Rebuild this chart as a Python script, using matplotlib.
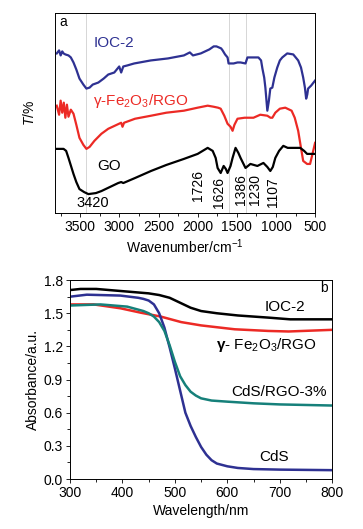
import matplotlib.pyplot as plt
from matplotlib.ticker import MultipleLocator

plt.rcParams['font.family'] = ['Liberation Sans', 'DejaVu Sans']
plt.rcParams['mathtext.fontset'] = 'custom'
plt.rcParams['mathtext.rm'] = 'Liberation Sans'
plt.rcParams['mathtext.it'] = 'Liberation Sans:italic'
plt.rcParams['mathtext.bf'] = 'Liberation Sans:bold'

# ---- panel a: FTIR (wavenumber in cm-1, transmittance in arbitrary units) ----
ioc_wn = [3800, 3770, 3750, 3730, 3713, 3690, 3650, 3620, 3586, 3550, 3510, 3460,
          3421, 3380, 3340, 3269, 3200, 3142, 3065, 3002, 2977, 2950, 2900, 2811,
          2600, 2380, 2176, 2100, 2060, 1960, 1850, 1795, 1760, 1730, 1700, 1681,
          1650, 1618, 1605, 1541, 1491, 1452, 1389, 1364, 1326, 1224, 1190, 1173,
          1150, 1135, 1110, 1090, 1072, 1046, 1020, 983, 950, 919, 856, 779, 716,
          680, 652, 630, 614, 600, 589, 550, 500]
ioc_t = [159, 162, 157, 161, 159, 158, 157, 155, 150, 143, 134, 128,
         124, 125, 128, 130, 134, 138, 140, 146, 140, 146, 147, 149,
         152, 154, 157, 160, 157, 159, 163, 166, 166, 165, 164, 162,
         158, 155, 149, 149, 150, 150, 149, 155, 155, 155, 152, 144,
         135, 125, 102, 112, 124, 125, 135, 145, 152, 155, 159, 158, 152,
         145, 135, 125, 114, 118, 124, 127, 132]

fe_wn = [3800, 3770, 3750, 3730, 3710, 3690, 3670, 3650, 3620, 3586, 3550, 3510,
         3460, 3421, 3380, 3319, 3230, 3142, 2977, 2960, 2940, 2800, 2596, 2400,
         2176, 2000, 1872, 1800, 1740, 1706, 1660, 1618, 1580, 1554, 1530, 1491,
         1400, 1287, 1200, 1110, 1070, 1046, 1008, 950, 881, 800, 760, 716,
         680, 652, 602, 564, 530, 500]
fe_t = [107, 98, 112, 100, 110, 95, 108, 96, 103, 99, 88, 75,
        68, 64, 66, 72, 79, 84, 90, 86, 90, 94, 97, 100,
        102, 105, 107, 106, 105, 104, 97, 89, 86, 82, 88, 94,
        95, 95, 98, 97, 95, 95, 100, 104, 105, 102, 95, 82,
        65, 52, 49, 49, 60, 70]

go_wn = [3800, 3713, 3680, 3650, 3586, 3550, 3510, 3450, 3396, 3300, 3230, 3015,
         2977, 2950, 2800, 2596, 2400, 2176, 2000, 1872, 1808, 1770, 1745, 1706,
         1668, 1640, 1618, 1580, 1554, 1516, 1480, 1452, 1389, 1326, 1237, 1160,
         1110, 1072, 1040, 1008, 960, 906, 850, 779, 690, 640, 602, 500]
go_t = [64, 64, 62, 55, 39, 31, 24, 21, 19, 20, 22, 30,
        31, 30, 35, 42, 48, 54, 59, 65, 62, 55, 45, 40,
        47, 44, 40, 47, 55, 65, 60, 55, 45, 49, 47, 50,
        46, 42, 46, 55, 62, 67, 65, 65, 65, 62, 59, 59]

peak_labels = ['1726', '1626', '1386', '1230', '1107']
peak_label_x = [2000, 1732, 1440, 1262, 1035]
peak_label_y = [12, 5, 8, 8, 6]
guide_lines = [3420, 1600, 1386]

# ---- panel b: UV-vis absorbance ----
ioc_nm = [300, 320, 350, 400, 450, 470, 490, 510, 530, 550, 580, 620, 680, 720, 800]
ioc_abs = [1.71, 1.72, 1.72, 1.70, 1.68, 1.665, 1.64, 1.595, 1.55, 1.52, 1.50, 1.48, 1.46, 1.445, 1.445]

fe_nm = [300, 345, 396, 435, 473, 512, 550, 614, 678, 717, 800]
fe_abs = [1.58, 1.58, 1.545, 1.505, 1.47, 1.42, 1.39, 1.355, 1.34, 1.335, 1.35]

cds_nm = [300, 332, 396, 430, 440, 450, 460, 470, 480, 490, 500, 510, 520, 530, 540,
          550, 560, 570, 580, 600, 620, 650, 700, 800]
cds_abs = [1.65, 1.668, 1.66, 1.64, 1.63, 1.615, 1.58, 1.50, 1.37, 1.19, 1.00, 0.80, 0.60, 0.48, 0.38,
           0.29, 0.22, 0.17, 0.14, 0.115, 0.10, 0.09, 0.085, 0.08]

rgo_nm = [300, 358, 409, 440, 450, 460, 470, 480, 490, 500, 510, 520, 530, 540, 550,
          570, 600, 650, 700, 800]
rgo_abs = [1.57, 1.58, 1.56, 1.52, 1.50, 1.47, 1.42, 1.34, 1.21, 1.06, 0.93, 0.85, 0.79, 0.755, 0.73,
           0.71, 0.70, 0.685, 0.675, 0.665]

blue = '#2e3192'
red = '#ec2a25'
teal = '#16807a'

fig = plt.figure(figsize=(3.63, 5.29), dpi=100)
ax1 = fig.add_axes([0.152, 0.597, 0.716, 0.378])
ax2 = fig.add_axes([0.193, 0.0945, 0.722, 0.376])

for x in guide_lines:
    ax1.axvline(x, color='#d0d0d0', lw=0.6, zorder=0)
ax1.plot(ioc_wn, ioc_t, color=blue, lw=1.6)
ax1.plot(fe_wn, fe_t, color=red, lw=1.6)
ax1.plot(go_wn, go_t, color='black', lw=1.6)
ax1.set_xlim(3820, 500)
ax1.set_ylim(0, 199)
ax1.set_yticks([])
ax1.xaxis.set_major_locator(MultipleLocator(500))
ax1.xaxis.set_minor_locator(MultipleLocator(250))
ax1.tick_params(axis='x', which='major', length=3, width=0.6, labelsize=10, pad=2)
ax1.tick_params(axis='x', which='minor', length=2, width=0.6)
ax1.set_xlabel('Wavenumber/cm$^{-1}$', fontsize=10, labelpad=2)
ax1.set_ylabel('$T$/%', fontsize=10)
ax1.yaxis.set_label_coords(-0.07, 0.5)
ax1.text(3760, 190, 'a', fontsize=10, va='center')
ax1.text(3332, 169, 'IOC-2', color=blue, fontsize=11, va='center')
ax1.text(3332, 112, 'γ-Fe$_2$O$_3$/RGO', color=red, fontsize=11, va='center')
ax1.text(3129, 47, 'GO', fontsize=11, ha='center', va='center')
ax1.text(3336, 10, '3420', fontsize=10.5, ha='center', va='center')
for lab, x, y in zip(peak_labels, peak_label_x, peak_label_y):
    ax1.text(x, y, lab, fontsize=10, rotation=90, ha='center', va='bottom')
for s in ax1.spines.values():
    s.set_linewidth(0.7)

ax2.plot(ioc_nm, ioc_abs, color='black', lw=1.8)
ax2.plot(fe_nm, fe_abs, color=red, lw=1.8)
ax2.plot(cds_nm, cds_abs, color=blue, lw=1.8)
ax2.plot(rgo_nm, rgo_abs, color=teal, lw=1.8)
ax2.set_xlim(300, 800)
ax2.set_ylim(0, 1.8)
ax2.xaxis.set_major_locator(MultipleLocator(100))
ax2.xaxis.set_minor_locator(MultipleLocator(50))
ax2.yaxis.set_major_locator(MultipleLocator(0.3))
ax2.yaxis.set_minor_locator(MultipleLocator(0.15))
ax2.yaxis.set_major_formatter(plt.FormatStrFormatter('%.1f'))
ax2.tick_params(which='major', length=3, width=0.6, labelsize=10, pad=2)
ax2.tick_params(which='minor', length=2, width=0.6)
ax2.set_xlabel('Wavelength/nm', fontsize=10, labelpad=3)
ax2.set_ylabel('Absorbance/a.u.', fontsize=10, labelpad=3)
ax2.text(784, 1.725, 'b', fontsize=10, ha='center', va='center')
ax2.text(709, 1.56, 'IOC-2', fontsize=11, ha='center', va='center')
ax2.text(675, 1.21, r'$\mathbf{\gamma}$- Fe$_2$O$_3$/RGO', fontsize=11, ha='center', va='center')
ax2.text(699, 0.79, 'CdS/RGO-3%', fontsize=11, ha='center', va='center')
ax2.text(689, 0.20, 'CdS', fontsize=11, ha='center', va='center')
for s in ax2.spines.values():
    s.set_linewidth(0.7)

fig.savefig('out.png', dpi=100)
